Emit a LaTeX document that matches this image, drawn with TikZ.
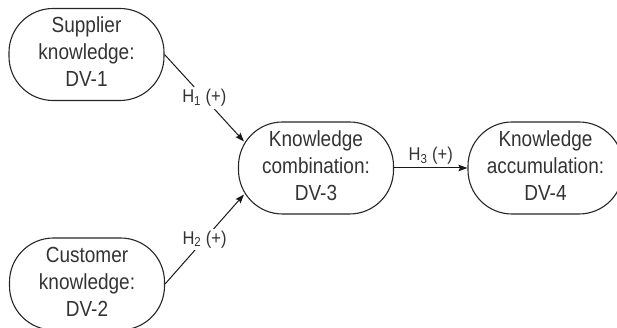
\documentclass[tikz,border=0pt]{standalone}
\usepackage{fontspec}
\usepackage{graphicx}
\setmainfont{Liberation Sans}
\usetikzlibrary{arrows.meta,calc}
\newcommand{\vtext}[1]{\scalebox{1}[1.15]{\begin{tabular}{@{}c@{}}#1\end{tabular}}}
\newcommand{\vlab}[1]{\scalebox{1}[1.12]{#1}}
\begin{document}
\begin{tikzpicture}[x=1pt,y=1pt,
  dvbox/.style={draw=black!85, line width=1.1pt, rounded corners=44pt,
    minimum width=155pt, minimum height=92pt, inner sep=0pt, align=center,
    text=black!80, font=\fontsize{19}{23.5}\selectfont},
  conn/.style={draw=black!90, line width=1pt, -{Stealth[length=9pt,width=6.5pt,inset=1.5pt]}},
  hlab/.style={text=black!80, font=\fontsize{16.5}{18}\selectfont, inner sep=2pt}]
\useasboundingbox (0,0) rectangle (617,328);
\node[dvbox] (s) at (86.5,273.5) {\vtext{Supplier\\knowledge:\\DV-1}};
\node[dvbox] (c) at (87,44) {\vtext{Customer\\knowledge:\\DV-2}};
\node[dvbox] (k) at (316,160) {\vtext{Knowledge\\combination:\\DV-3}};
\node[dvbox] (a) at (545.5,160) {\vtext{Knowledge\\accumulation:\\DV-4}};
\coordinate (k1) at ($(k.center)+(-72,26.5)$);
\coordinate (k2) at ($(k.center)+(-72,-26.5)$);
\draw[conn] (s.east) -- node[hlab, fill=white] {\vlab{H\textsubscript{1} (+)}} (k1);
\draw[conn] (c.east) -- node[hlab, fill=white] {\vlab{H\textsubscript{2} (+)}} (k2);
\draw[conn] (k.east) -- node[hlab, above=1pt] {\vlab{H\textsubscript{3} (+)}} (a.west);
\end{tikzpicture}
\end{document}
